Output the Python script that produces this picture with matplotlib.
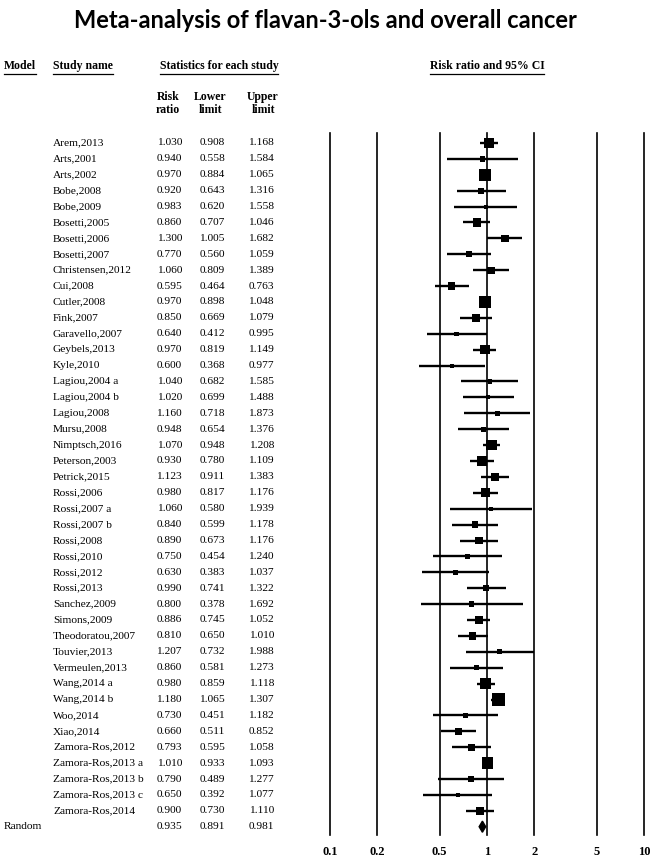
import numpy as np
import matplotlib
matplotlib.use('Agg')
import matplotlib.pyplot as plt
from matplotlib.patches import Polygon

#%% Data
studies = ['Arem,2013', 'Arts,2001', 'Arts,2002', 'Bobe,2008', 'Bobe,2009',
           'Bosetti,2005', 'Bosetti,2006', 'Bosetti,2007', 'Christensen,2012', 'Cui,2008',
           'Cutler,2008', 'Fink,2007', 'Garavello,2007', 'Geybels,2013', 'Kyle,2010',
           'Lagiou,2004 a', 'Lagiou,2004 b', 'Lagiou,2008', 'Mursu,2008', 'Nimptsch,2016',
           'Peterson,2003', 'Petrick,2015', 'Rossi,2006', 'Rossi,2007 a', 'Rossi,2007 b',
           'Rossi,2008', 'Rossi,2010', 'Rossi,2012', 'Rossi,2013', 'Sanchez,2009',
           'Simons,2009', 'Theodoratou,2007', 'Touvier,2013', 'Vermeulen,2013', 'Wang,2014 a',
           'Wang,2014 b', 'Woo,2014', 'Xiao,2014', 'Zamora-Ros,2012', 'Zamora-Ros,2013 a',
           'Zamora-Ros,2013 b', 'Zamora-Ros,2013 c', 'Zamora-Ros,2014']
rr = [1.030, 0.940, 0.970, 0.920, 0.983, 0.860, 1.300, 0.770, 1.060, 0.595,
      0.970, 0.850, 0.640, 0.970, 0.600, 1.040, 1.020, 1.160, 0.948, 1.070,
      0.930, 1.123, 0.980, 1.060, 0.840, 0.890, 0.750, 0.630, 0.990, 0.800,
      0.886, 0.810, 1.207, 0.860, 0.980, 1.180, 0.730, 0.660, 0.793, 1.010,
      0.790, 0.650, 0.900]
lower = [0.908, 0.558, 0.884, 0.643, 0.620, 0.707, 1.005, 0.560, 0.809, 0.464,
         0.898, 0.669, 0.412, 0.819, 0.368, 0.682, 0.699, 0.718, 0.654, 0.948,
         0.780, 0.911, 0.817, 0.580, 0.599, 0.673, 0.454, 0.383, 0.741, 0.378,
         0.745, 0.650, 0.732, 0.581, 0.859, 1.065, 0.451, 0.511, 0.595, 0.933,
         0.489, 0.392, 0.730]
upper = [1.168, 1.584, 1.065, 1.316, 1.558, 1.046, 1.682, 1.059, 1.389, 0.763,
         1.048, 1.079, 0.995, 1.149, 0.977, 1.585, 1.488, 1.873, 1.376, 1.208,
         1.109, 1.383, 1.176, 1.939, 1.178, 1.176, 1.240, 1.037, 1.322, 1.692,
         1.052, 1.010, 1.988, 1.273, 1.118, 1.307, 1.182, 0.852, 1.058, 1.093,
         1.277, 1.077, 1.110]
# relative weight, shown as the size of each square
weight = [10, 5, 11, 6, 4, 8, 7, 6, 7, 7,
          11, 8, 4, 9, 4, 4, 4, 5, 5, 10,
          9, 8, 9, 4, 6, 7, 5, 5, 6, 5,
          8, 7, 5, 5, 10, 12, 5, 7, 7, 11,
          5, 4, 8]
pooled = (0.935, 0.891, 0.981)
ticks = [0.1, 0.2, 0.5, 1, 2, 5, 10]

#%% Figure and forest axes
W, H = 650, 860
fig = plt.figure(figsize=(W / 100, H / 100), dpi=100)
n = len(studies)
row_h = 15.9
top_px, bot_px, first_px = 133, 835, 143
ax = fig.add_axes([330 / W, 1 - bot_px / H, 314 / W, (bot_px - top_px) / H])
ax.set_xscale('log')
ax.set_xlim(0.1, 10)
ax.set_ylim((bot_px - first_px) / row_h, (top_px - first_px) / row_h)
for s in ax.spines.values():
    s.set_visible(False)
ax.set_yticks([])
ax.set_xticks(ticks)
ax.set_xticklabels([str(t) for t in ticks], fontfamily='Liberation Serif',
                   fontweight='bold', fontsize=9)
ax.minorticks_off()
ax.tick_params(axis='x', length=0, pad=8)

for t in ticks:
    ax.axvline(t, color='black', lw=1.2, clip_on=False, zorder=1)

y = np.arange(n)
ax.hlines(y, lower, upper, color='black', lw=1.7, zorder=2)
ax.scatter(rr, y, marker='s', s=(np.array(weight) * 0.75) ** 2, color='black',
           linewidths=0, zorder=3)

# pooled diamond
yr = n
est, lo, hi = pooled
ax.add_patch(Polygon([[lo, yr], [est, yr - 0.35], [hi, yr], [est, yr + 0.35]],
                     closed=True, color='black', zorder=3))

#%% Table on the left
trans = matplotlib.transforms.blended_transform_factory(fig.transFigure, ax.transData)
tfont = dict(fontfamily='Liberation Serif', fontsize=8.2, va='center')
col_x = [182, 225, 274]
for i in range(n):
    ax.text(53 / W, i, studies[i], transform=trans, ha='left', **tfont)
    for cx, v in zip(col_x, (rr[i], lower[i], upper[i])):
        ax.text(cx / W, i, '%.3f' % v, transform=trans, ha='right', **tfont)
ax.text(4 / W, n, 'Random', transform=trans, ha='left', **tfont)
for cx, v in zip(col_x, pooled):
    ax.text(cx / W, n, '%.3f' % v, transform=trans, ha='right', **tfont)

hfont = dict(fontfamily='Liberation Serif', fontsize=8.5, fontweight='bold', va='center')
for cx, l1, l2 in [(168, 'Risk', 'ratio'), (210, 'Lower', 'limit'), (263, 'Upper', 'limit')]:
    fig.text(cx / W, 1 - 97 / H, l1, ha='center', **hfont)
    fig.text(cx / W, 1 - 110 / H, l2, ha='center', **hfont)

# underlined headers
heads = [(4, 'left', 'Model'), (53, 'left', 'Study name'),
         (219, 'center', 'Statistics for each study'), (487, 'center', 'Risk ratio and 95% CI')]
htexts = [fig.text(x / W, 1 - 66 / H, s, ha=ha, **hfont) for x, ha, s in heads]

fig.suptitle('Meta-analysis of flavan-3-ols and overall cancer', y=1 - 20 / H,
             fontfamily='Lato', fontweight='bold', fontsize=17, va='center')

fig.canvas.draw()
r = fig.canvas.get_renderer()
for t in htexts:
    bb = t.get_window_extent(r)
    yl = (bb.y0 - 1.5) / H
    fig.add_artist(plt.Line2D([bb.x0 / W, bb.x1 / W], [yl, yl], color='black', lw=0.9))

fig.savefig('out.png', dpi=100)
